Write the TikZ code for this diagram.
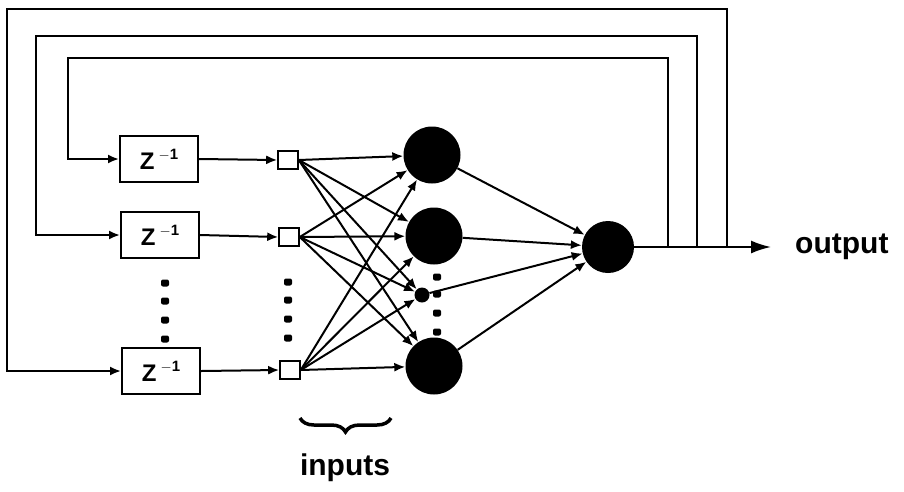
\documentclass[tikz,border=0pt]{standalone}
\usepackage{fontspec}
\setmainfont{Liberation Sans}
\usetikzlibrary{arrows.meta,decorations.pathreplacing,shapes.geometric}
\tikzset{
  wire/.style={line width=2pt},
  arr/.style={wire,-{Latex[length=11pt,width=9pt]}},
  delaybox/.style={draw,line width=2pt,minimum width=78pt,minimum height=46pt,inner sep=0pt,
    font=\fontsize{24}{24}\selectfont\bfseries},
  inbox/.style={draw,line width=1.6pt,fill=white,minimum width=20pt,minimum height=18pt,inner sep=0pt},
  neuron/.style={circle,fill=black,minimum size=57pt,inner sep=0pt},
  smallneuron/.style={circle,fill=black,minimum size=15pt,inner sep=0pt},
  vdot/.style={fill=black,rounded corners=2pt,rectangle,minimum width=8pt,minimum height=7pt,inner sep=0pt},
  lbl/.style={font=\fontsize{30}{30}\selectfont\bfseries,inner sep=0pt}
}
\newcommand{\zinv}{Z\,\raisebox{0.42em}{\fontsize{15}{15}\selectfont\bfseries $-$1}}
\begin{document}
\begin{tikzpicture}[x=1pt,y=-1pt]
\useasboundingbox (0,0) rectangle (904,491);

% delay elements
\node[delaybox] (d1) at (159,159) {\zinv};
\node[delaybox] (d2) at (160,235) {\zinv};
\node[delaybox] (d3) at (161,371) {\zinv};

% input units
\node[inbox] (i1) at (288,160) {};
\node[inbox] (i2) at (289,237) {};
\node[inbox] (i3) at (290,370) {};

% hidden layer
\node[neuron] (h1) at (432,155) {};
\node[neuron] (h2) at (434,236) {};
\node[smallneuron] (hd) at (422,295) {};
\node[neuron] (h3) at (434,366) {};

% output unit
\node[neuron,minimum size=52pt] (o) at (608,247) {};
\node[lbl,anchor=west] (out) at (795,247) {output};

% vertical ellipses
\foreach \y [count=\k] in {283,301,320,339} {
  \node[vdot] (bd\k) at (165,\y) {};
  \node[vdot] (id\k) at (288,\y-1) {};
}
\foreach \y [count=\k] in {277,294,313,332} {
  \node[vdot] (hdd\k) at (437,\y) {};
}

% delays to inputs
\draw[arr] (d1.east) -- (i1.west);
\draw[arr] (d2.east) -- (i2.west);
\draw[arr] (d3.east) -- (i3.west);

% inputs to hidden layer
\foreach \i in {i1,i2,i3} {
  \foreach \h in {h1,h2,hd,h3} {
    \draw[arr] (\i.east) -- (\h);
  }
}

% hidden layer to output
\foreach \h in {h1,h2,hd,h3} {
  \draw[arr] (\h) -- (o);
}

% output line
\draw[wire,-{Latex[length=20pt,width=13pt]}] (o.east) -- ([xshift=-24pt]out.west);

% feedback loops
\coordinate (b1) at (668,247);
\coordinate (b2) at (697,247);
\coordinate (b3) at (727,247);
\coordinate (c1) at (68,58);
\coordinate (c2) at (36,36);
\coordinate (c3) at (7,9);
\draw[arr] (b1) |- (c1) |- (d1.west);
\draw[arr] (b2) |- (c2) |- (d2.west);
\draw[arr] (b3) |- (c3) |- (d3.west);

% input brace and label
\coordinate (brl) at (300,418);
\coordinate (brr) at (391,418);
\draw[line width=3.5pt,decorate,decoration={brace,amplitude=14pt}] (brr) -- (brl);
\node[lbl] (inp) at (345,468) {inputs};
\end{tikzpicture}
\end{document}
